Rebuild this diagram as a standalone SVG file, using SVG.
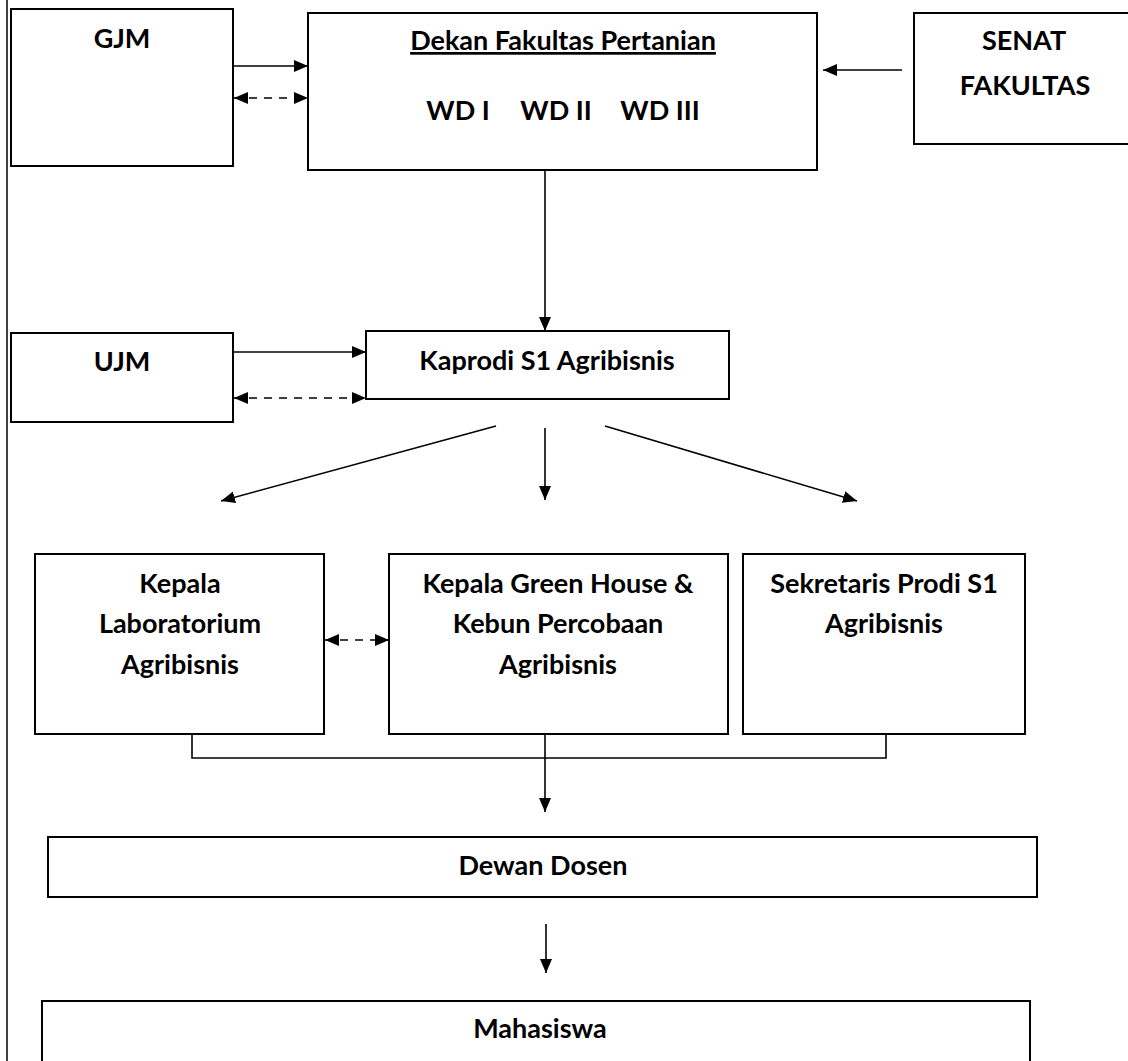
<svg xmlns="http://www.w3.org/2000/svg" width="1128" height="1061" viewBox="0 0 1128 1061">
<style>
  .box { fill: #ffffff; stroke: #000000; stroke-width: 2; }
  .t { font-family: Lato, "Open Sans", "Liberation Sans", sans-serif; font-weight: bold; font-size: 27px; fill: #000000; text-anchor: middle; }
  .c { stroke: #000000; stroke-width: 1.6; fill: none; }
  .d { stroke-dasharray: 8 7; }
</style>
<defs>
  <marker id="ah" viewBox="0 0 14 12" refX="14" refY="6" markerWidth="14" markerHeight="12" markerUnits="userSpaceOnUse" orient="auto-start-reverse">
    <path d="M0,0 L14,6 L0,12 z" fill="#000000"/>
  </marker>
</defs>
<rect x="0" y="0" width="1128" height="1061" fill="#ffffff"/>
<line x1="7" y1="0" x2="7" y2="1061" stroke="#000000" stroke-width="1.5"/>

<g id="node-gjm">
  <rect class="box" x="11" y="9" width="222" height="157"/>
  <text class="t" x="122" y="48">GJM</text>
</g>
<g id="node-dekan">
  <rect class="box" x="308" y="13" width="509" height="157"/>
  <text class="t" x="563" y="50" text-decoration="underline">Dekan Fakultas Pertanian</text>
  <text class="t" x="458" y="120">WD I</text>
  <text class="t" x="556" y="120">WD II</text>
  <text class="t" x="660" y="120">WD III</text>
</g>
<g id="node-senat">
  <rect class="box" x="914" y="13" width="225" height="131"/>
  <text class="t" x="1024" y="50">SENAT</text>
  <text class="t" x="1025" y="95">FAKULTAS</text>
</g>
<g id="node-ujm">
  <rect class="box" x="11" y="333" width="222" height="89"/>
  <text class="t" x="122" y="371">UJM</text>
</g>
<g id="node-kaprodi">
  <rect class="box" x="366" y="331" width="363" height="68"/>
  <text class="t" x="547" y="370">Kaprodi S1 Agribisnis</text>
</g>
<g id="node-lab">
  <rect class="box" x="35" y="554" width="289" height="180"/>
  <text class="t" x="180" y="593">Kepala</text>
  <text class="t" x="180" y="633">Laboratorium</text>
  <text class="t" x="180" y="674">Agribisnis</text>
</g>
<g id="node-greenhouse">
  <rect class="box" x="389" y="554" width="339" height="180"/>
  <text class="t" x="558" y="593">Kepala Green House &amp;</text>
  <text class="t" x="558" y="633">Kebun Percobaan</text>
  <text class="t" x="558" y="674">Agribisnis</text>
</g>
<g id="node-sekretaris">
  <rect class="box" x="743" y="554" width="282" height="180"/>
  <text class="t" x="884" y="593">Sekretaris Prodi S1</text>
  <text class="t" x="884" y="633">Agribisnis</text>
</g>
<g id="node-dewan">
  <rect class="box" x="48" y="837" width="989" height="60"/>
  <text class="t" x="543" y="875">Dewan Dosen</text>
</g>
<g id="node-mahasiswa">
  <rect class="box" x="42" y="1001" width="988" height="80"/>
  <text class="t" x="540" y="1038">Mahasiswa</text>
</g>

<g id="connectors">
  <line class="c" x1="233" y1="66" x2="308" y2="66" marker-end="url(#ah)"/>
  <line class="c d" x1="234" y1="98" x2="308" y2="98" marker-start="url(#ah)" marker-end="url(#ah)"/>
  <line class="c" x1="902" y1="70" x2="823" y2="70" marker-end="url(#ah)"/>
  <line class="c" x1="545" y1="170" x2="545" y2="331" marker-end="url(#ah)"/>
  <line class="c" x1="233" y1="352" x2="366" y2="352" marker-end="url(#ah)"/>
  <line class="c d" x1="234" y1="398" x2="366" y2="398" marker-start="url(#ah)" marker-end="url(#ah)"/>
  <line class="c" x1="496" y1="426" x2="221" y2="501" marker-end="url(#ah)"/>
  <line class="c" x1="545" y1="428" x2="545" y2="500" marker-end="url(#ah)"/>
  <line class="c" x1="605" y1="426" x2="857" y2="501" marker-end="url(#ah)"/>
  <line class="c d" x1="325" y1="640" x2="389" y2="640" marker-start="url(#ah)" marker-end="url(#ah)"/>
  <polyline class="c" points="192,734 192,758 886,758 886,734"/>
  <line class="c" x1="545" y1="734" x2="545" y2="812" marker-end="url(#ah)"/>
  <line class="c" x1="546" y1="924" x2="546" y2="973" marker-end="url(#ah)"/>
</g>
</svg>
